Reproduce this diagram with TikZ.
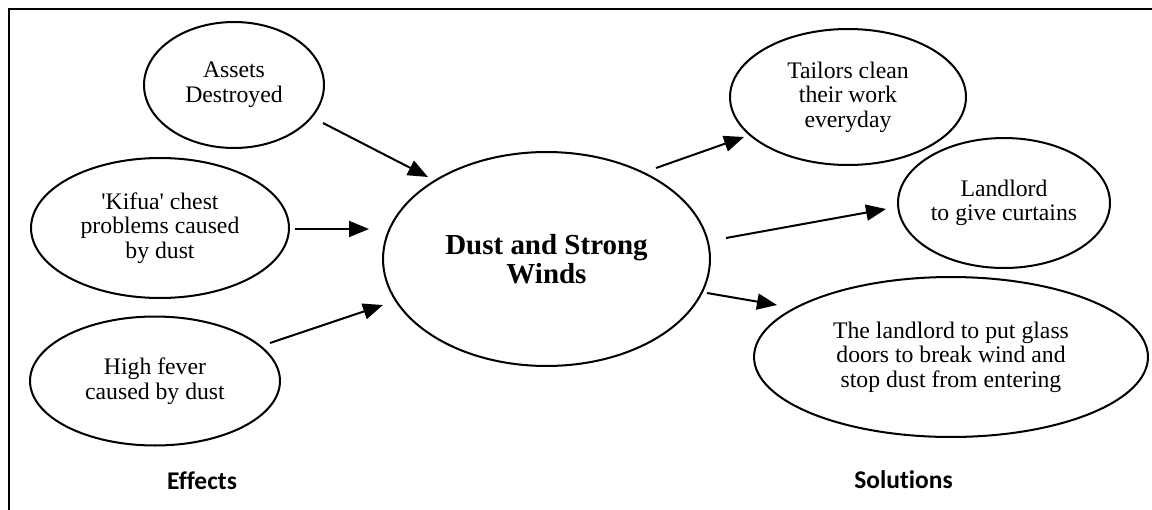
\documentclass[tikz,border=0pt]{standalone}
\usepackage{fontspec}
\setmainfont{Liberation Serif}
\newfontfamily\labelfont[Ligatures=NoCommon]{Carlito}
\usetikzlibrary{shapes.geometric,arrows.meta,calc}

\begin{document}
\begin{tikzpicture}[x=0.02cm,y=-0.02cm,
  oval/.style={draw,ellipse,line width=1.15pt,inner sep=0pt,align=center,
    font=\fontsize{13.5}{14}\selectfont},
  hubtext/.style={font=\bfseries\fontsize{16.5}{16.7}\selectfont},
  arr/.style={line width=1.15pt,-{Triangle[length=0.4cm,width=0.32cm]}},
  caption/.style={font=\labelfont\bfseries\fontsize{14.5}{17}\selectfont,anchor=base}]

\useasboundingbox (0,0) rectangle (1152,510);

% open frame (top and left edges only)
\draw[line width=1.15pt] (9,510) -- (9,9) -- (1152,9);

% central topic
\node[oval,hubtext,minimum width=6.54cm,minimum height=4.28cm] (hub) at (546.5,259)
  {Dust and Strong\\Winds};

% effects
\node[oval,minimum width=3.6cm,minimum height=2.52cm] (assets) at (234,85)
  {Assets\\Destroyed};
\node[oval,minimum width=5.16cm,minimum height=2.8cm] (kifua) at (160,228)
  {\textquotesingle Kifua\textquotesingle{} chest\\problems caused\\by dust};
\node[oval,minimum width=5.0cm,minimum height=2.58cm] (fever) at (155,381)
  {High fever\\caused by dust};

% solutions
\node[oval,minimum width=4.72cm,minimum height=2.72cm] (tailors) at (848,97)
  {Tailors clean\\their work\\everyday};
\node[oval,minimum width=4.24cm,minimum height=2.6cm] (curtains) at (1004,203)
  {Landlord\\to give curtains};
\node[oval,minimum width=7.88cm,minimum height=3.2cm] (glass) at (951,357)
  {The landlord to put glass\\doors to break wind and\\stop dust from entering};

% effects point into the topic
\draw[arr] ($(assets)+(89,38)$) -- ($(hub)+(-118.5,-82)$);
\draw[arr] ($(kifua)+(135,1)$) -- ($(hub)+(-177.5,-30)$);
\draw[arr] ($(fever)+(115,-38)$) -- ($(hub)+(-163.5,46)$);

% topic points out to the solutions
\draw[arr] ($(hub)+(109.5,-91)$) -- ($(tailors)+(-104,40)$);
\draw[arr] ($(hub)+(179.5,-21)$) -- ($(curtains)+(-118,6)$);
\draw[arr] ($(hub)+(160.5,34)$) -- ($(glass)+(-174,-52)$);

% column captions
\node[caption] (effects) at (202,489) {Effects};
\node[caption] (solutions) at (903.5,488) {Solutions};

\end{tikzpicture}
\end{document}
